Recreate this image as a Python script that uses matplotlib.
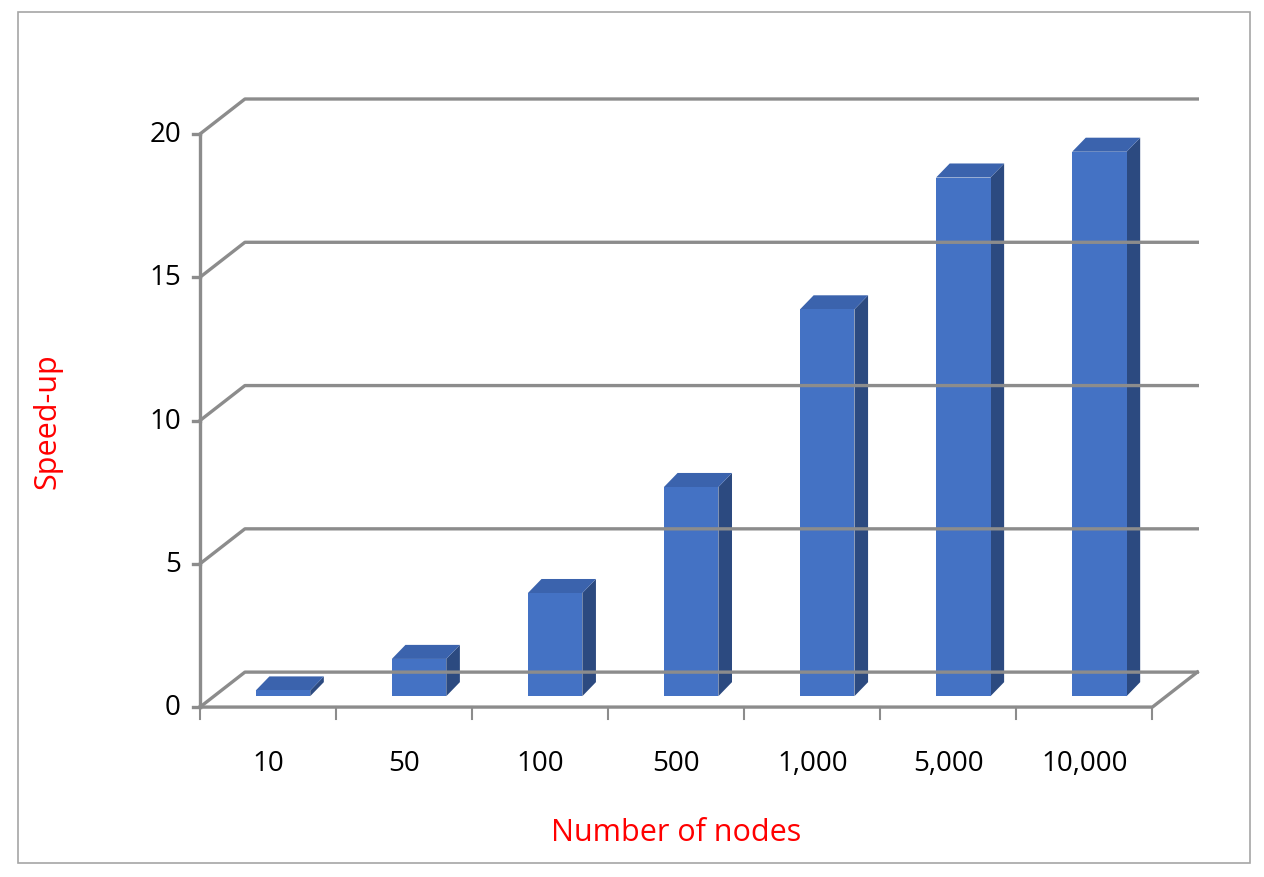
import matplotlib.pyplot as plt
from matplotlib.patches import Polygon, Rectangle

categories = ["10", "50", "100", "500", "1,000", "5,000", "10,000"]
speedup = [0.2, 1.3, 3.6, 7.3, 13.5, 18.1, 19.0]
y_ticks = [0, 5, 10, 15, 20]

GRID = "#8c8c8c"
FRONT = "#4472C4"
SIDE = "#2C4A80"
TOP = "#3B63AD"

# depth offsets (category units / value units)
WALL_DX, WALL_DY = 0.33, 1.22
BAR_DX, BAR_DY = 0.10, 0.49
BASE_DX, BASE_DY = 0.11, 0.38
BAR_W = 0.40

fig = plt.figure(figsize=(12.64, 8.78), dpi=100)
ax = fig.add_axes([0, 0, 1, 1])
ax.set_xlim(-1.97, 7.32)
ax.set_ylim(-5.93, 24.71)
ax.axis("off")

# outer border
ax.add_patch(Rectangle((-1.84, -5.45), 9.06, 29.7, fill=False, ec="#a6a6a6", lw=1.2))

x0, x1 = -0.5, len(categories) - 0.5
# floor
ax.plot([x0, x1, x1 + WALL_DX], [0, 0, WALL_DY], color=GRID, lw=2.4)
# wall gridlines and left wall diagonals
for t in y_ticks:
    ax.plot([x0, x0 + WALL_DX, x1 + WALL_DX], [t, t + WALL_DY, t + WALL_DY], color=GRID, lw=2.4)
    ax.plot([x0 - 0.05, x0], [t, t], color=GRID, lw=2.4)
    ax.text(x0 - 0.14, t, str(t), ha="right", va="center", fontsize=20, family="Open Sans")
ax.plot([x0, x0], [0, y_ticks[-1]], color=GRID, lw=2.4)
for i in range(len(categories) + 1):
    ax.plot([x0 + i, x0 + i], [0, -0.4], color=GRID, lw=1.5)

# bars
for i, v in enumerate(speedup):
    left = i + BASE_DX - BAR_W / 2
    right = left + BAR_W
    b, t = BASE_DY, BASE_DY + v
    ax.add_patch(Polygon([(right, b), (right + BAR_DX, b + BAR_DY), (right + BAR_DX, t + BAR_DY), (right, t)],
                         fc=SIDE, ec="none"))
    ax.add_patch(Polygon([(left, t), (left + BAR_DX, t + BAR_DY), (right + BAR_DX, t + BAR_DY), (right, t)],
                         fc=TOP, ec="none"))
    ax.add_patch(Rectangle((left, b), BAR_W, v, fc=FRONT, ec="none"))
    ax.text(i, -1.95, categories[i], ha="center", va="center", fontsize=20, family="Open Sans")

ax.text(3.0, -4.35, "Number of nodes", ha="center", va="center", fontsize=22, color="red", family="Open Sans")
ax.text(-1.62, 10, "Speed-up", ha="center", va="center", rotation=90, fontsize=22, color="red", family="Open Sans")

fig.savefig("out.png", dpi=100)
